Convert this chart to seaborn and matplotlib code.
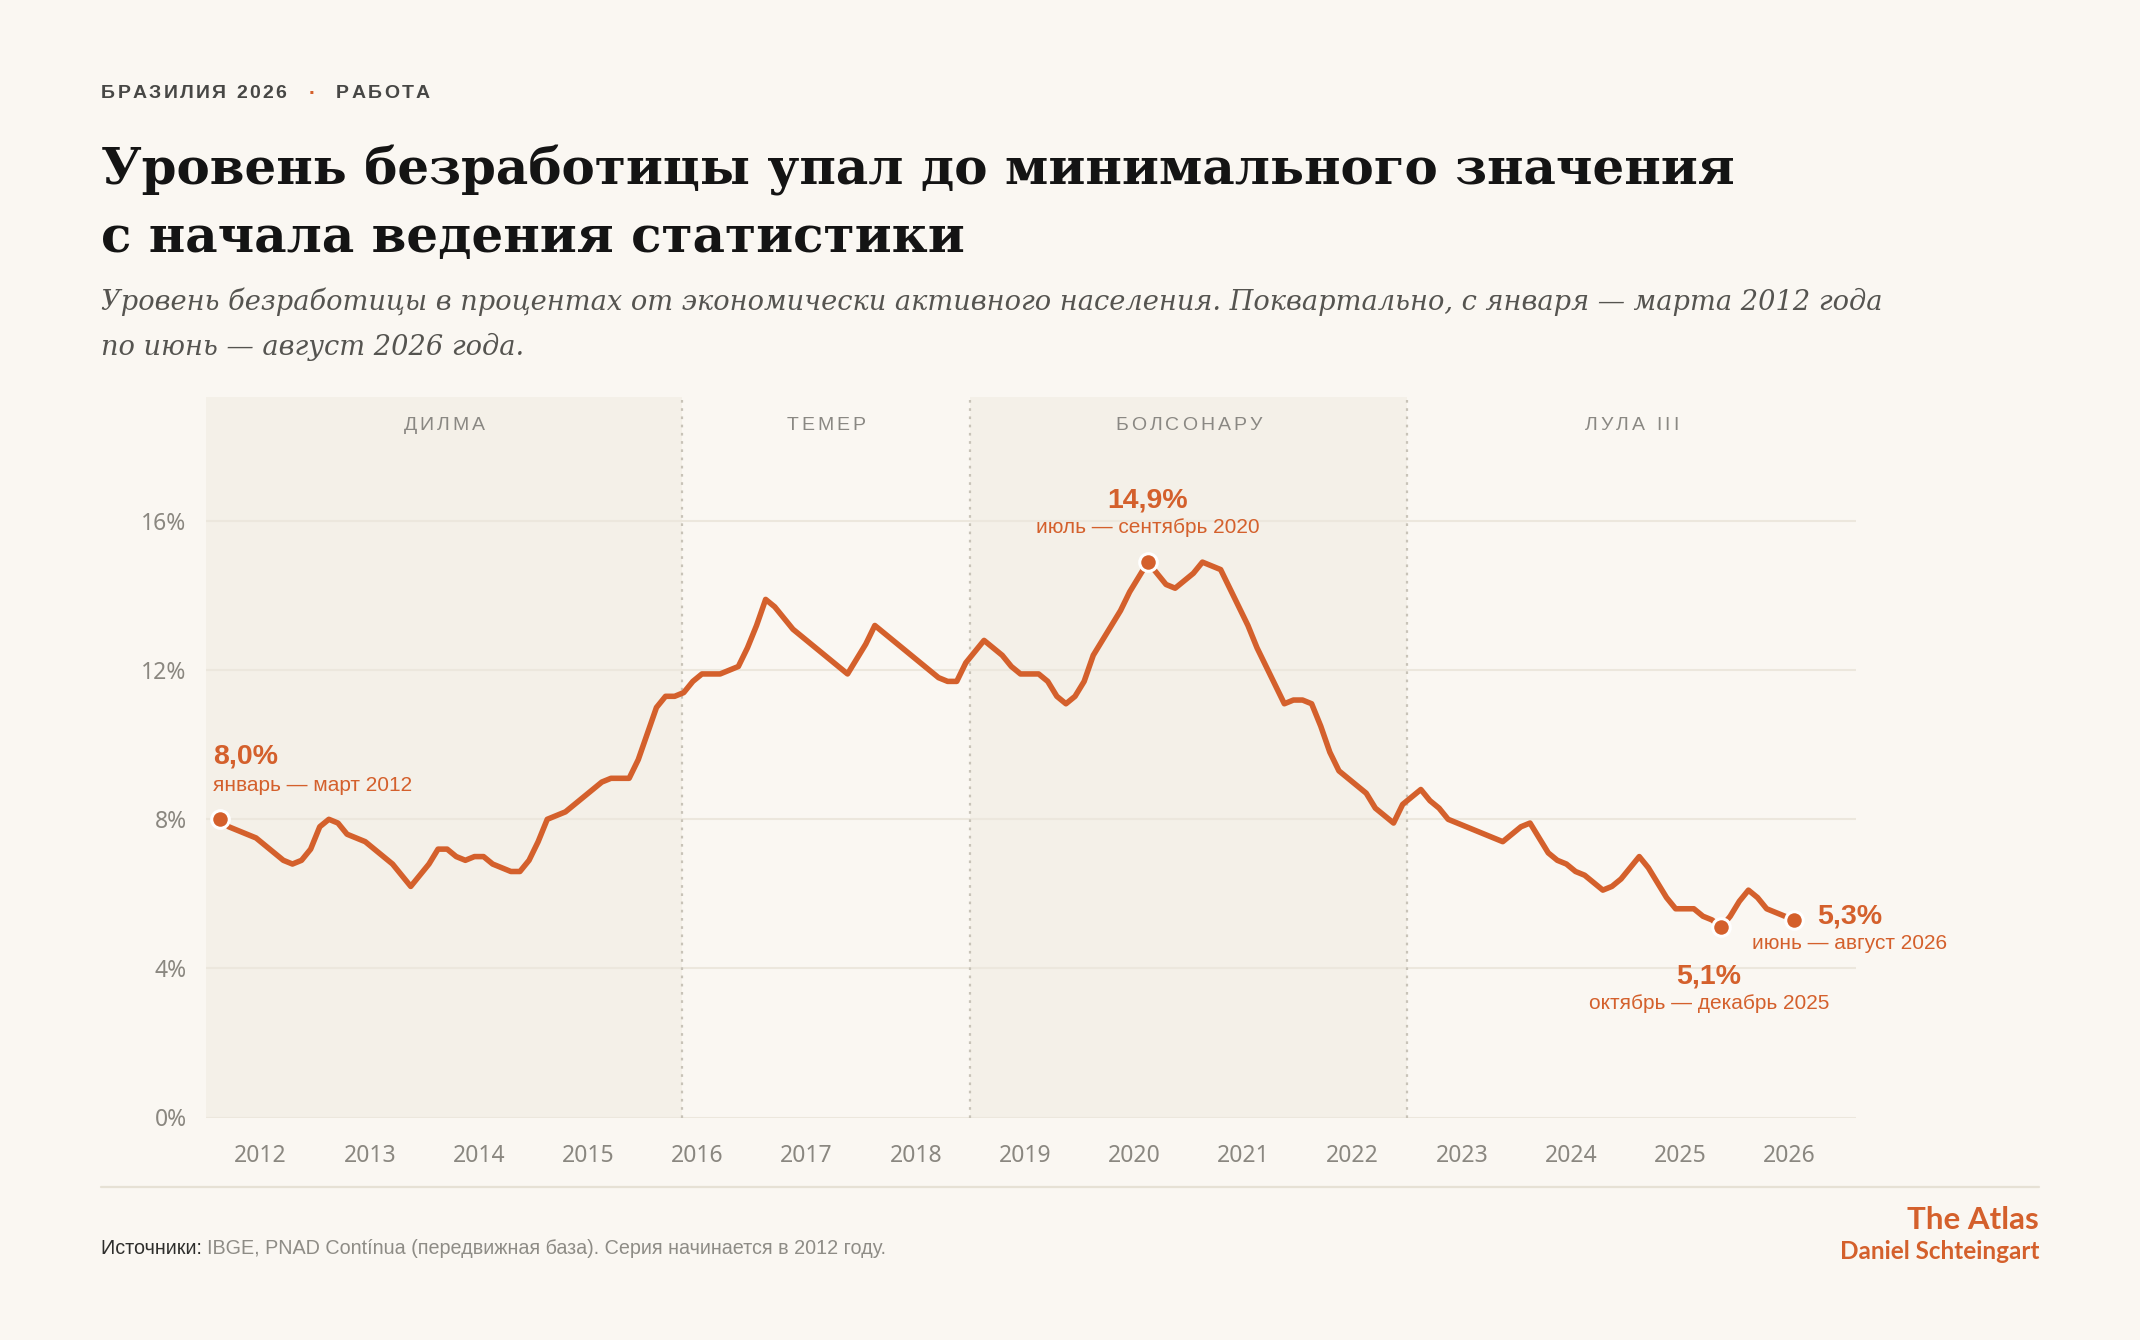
import numpy as np
import pandas as pd
import matplotlib
matplotlib.use("Agg")
import matplotlib.pyplot as plt
import seaborn as sns
from matplotlib.ft2font import FT2Font
from matplotlib.font_manager import findfont, FontProperties

# ---------------- data ----------------
# Unemployment rate (%), monthly moving quarters; first window Jan-Mar 2012, last Jun-Aug 2026
first_window_end = "2012-03"
last_window_end = "2026-08"
rate_2012 = [8.0, 7.8, 7.7, 7.6, 7.5, 7.3, 7.1, 6.9, 6.8, 6.9]
rate_2013 = [7.2, 7.8, 8.0, 7.9, 7.6, 7.5, 7.4, 7.2, 7.0, 6.8, 6.5, 6.2]
rate_2014 = [6.5, 6.8, 7.2, 7.2, 7.0, 6.9, 7.0, 7.0, 6.8, 6.7, 6.6, 6.6]
rate_2015 = [6.9, 7.4, 8.0, 8.1, 8.2, 8.4, 8.6, 8.8, 9.0, 9.1, 9.1, 9.1]
rate_2016 = [9.6, 10.3, 11.0, 11.3, 11.3, 11.4, 11.7, 11.9, 11.9, 11.9, 12.0, 12.1]
rate_2017 = [12.6, 13.2, 13.9, 13.7, 13.4, 13.1, 12.9, 12.7, 12.5, 12.3, 12.1, 11.9]
rate_2018 = [12.3, 12.7, 13.2, 13.0, 12.8, 12.6, 12.4, 12.2, 12.0, 11.8, 11.7, 11.7]
rate_2019 = [12.2, 12.5, 12.8, 12.6, 12.4, 12.1, 11.9, 11.9, 11.9, 11.7, 11.3, 11.1]
rate_2020 = [11.3, 11.7, 12.4, 12.8, 13.2, 13.6, 14.1, 14.5, 14.9, 14.6, 14.3, 14.2]
rate_2021 = [14.4, 14.6, 14.9, 14.8, 14.7, 14.2, 13.7, 13.2, 12.6, 12.1, 11.6, 11.1]
rate_2022 = [11.2, 11.2, 11.1, 10.5, 9.8, 9.3, 9.1, 8.9, 8.7, 8.3, 8.1, 7.9]
rate_2023 = [8.4, 8.6, 8.8, 8.5, 8.3, 8.0, 7.9, 7.8, 7.7, 7.6, 7.5, 7.4]
rate_2024 = [7.6, 7.8, 7.9, 7.5, 7.1, 6.9, 6.8, 6.6, 6.5, 6.3, 6.1, 6.2]
rate_2025 = [6.4, 6.7, 7.0, 6.7, 6.3, 5.9, 5.6, 5.6, 5.6, 5.4, 5.3, 5.1]
rate_2026 = [5.4, 5.8, 6.1, 5.9, 5.6, 5.5, 5.4, 5.3]

period_names = ["ДИЛМА", "ТЕМЕР", "БОЛСОНАРУ", "ЛУЛА III"]
period_starts = [2012.0, 2016.36, 2019.0, 2023.0]
period_ends = [2016.36, 2019.0, 2023.0, 2027.11]
period_shaded = [True, False, True, False]

year_labels = [str(y) for y in range(2012, 2027)]
y_ticks = [0, 4, 8, 12, 16]
y_tick_labels = ["0%", "4%", "8%", "12%", "16%"]

callout_windows = ["2012-03", "2020-09", "2025-12", "2026-08"]
callout_values = ["8,0%", "14,9%", "5,1%", "5,3%"]
callout_periods = ["январь — март 2012", "июль — сентябрь 2020",
                   "октябрь — декабрь 2025", "июнь — август 2026"]

# ---------------- build table ----------------
rates = (rate_2012 + rate_2013 + rate_2014 + rate_2015 + rate_2016 + rate_2017 + rate_2018
         + rate_2019 + rate_2020 + rate_2021 + rate_2022 + rate_2023 + rate_2024 + rate_2025 + rate_2026)
ends = pd.period_range(first_window_end, last_window_end, freq="M")
# position each moving quarter at the middle of its central month
xpos = np.array([p.year + (p.month - 1.5) / 12 for p in ends])
df = pd.DataFrame({"x": xpos, "rate": rates, "end": [str(p) for p in ends]})

# ---------------- style ----------------
BG = "#FAF7F2"
BAND = "#F4F0E8"
ORANGE = "#D4602C"
GRID = "#ECE7DD"
TICK = "#8A8780"

sns.set_theme(style="white")
plt.rcParams["font.family"] = ["Liberation Sans", "DejaVu Sans"]

W, H = 2140, 1340
fig = plt.figure(figsize=(W / 100, H / 100), dpi=100, facecolor=BG)
L, R, T, B = 206, 1856, 397, 1117.5
ax = fig.add_axes([L / W, 1 - B / H, (R - L) / W, (B - T) / H])
ax.set_facecolor(BG)
ax.set_xlim(period_starts[0], period_ends[-1])
ax.set_ylim(0, 19.33)

for s, e, shaded in zip(period_starts, period_ends, period_shaded):
    if shaded:
        ax.axvspan(s, e, color=BAND, zorder=0.1, lw=0)
for s in period_starts[1:]:
    ax.axvline(s, color="#C8C3B8", lw=1.6, ls=(0, (1.2, 2.5)), zorder=0.6)

ax.set_yticks(y_ticks)
ax.set_yticklabels(y_tick_labels)
ax.set_xticks([int(y) + 0.5 for y in year_labels])
ax.set_xticklabels(year_labels)
ax.grid(axis="y", color=GRID, lw=1.5, zorder=0.5)
ax.grid(axis="x", visible=False)
ax.set_axisbelow(True)
for sp in ax.spines.values():
    sp.set_visible(False)
ax.tick_params(axis="both", length=0, colors=TICK, labelsize=16.5)
ax.tick_params(axis="y", pad=14)
ax.tick_params(axis="x", pad=19)
for lab in ax.get_xticklabels() + ax.get_yticklabels():
    lab.set_fontfamily("Noto Sans")
    lab.set_color(TICK)

sns.lineplot(data=df, x="x", y="rate", color=ORANGE, linewidth=4.0, ax=ax,
             solid_joinstyle="round", solid_capstyle="round", zorder=3)

pts = df[df["end"].isin(callout_windows)]
sns.scatterplot(data=pts, x="x", y="rate", color=ORANGE, s=160, edgecolor="white",
                linewidth=2.2, zorder=5, ax=ax, legend=False)
ax.set_xlabel("")
ax.set_ylabel("")

# callouts: (dx, dy) offsets in pixels, alignment
offsets = {
    "2012-03": ((-7, 63), (-7, 34), "left"),
    "2020-09": ((0, 62), (0, 35), "center"),
    "2025-12": ((-12, -49), (-12, -76), "center"),
    "2026-08": ((56, 3), (56, -24), "center"),
}
for w, val, per in zip(callout_windows, callout_values, callout_periods):
    row = df[df["end"] == w].iloc[0]
    (o1, o2, ha) = offsets[w]
    ax.annotate(val, xy=(row["x"], row["rate"]), xytext=o1, textcoords="offset pixels",
                ha=ha, va="center", fontsize=20.5, fontweight="bold", color=ORANGE, zorder=6)
    ax.annotate(per, xy=(row["x"], row["rate"]), xytext=o2, textcoords="offset pixels",
                ha=ha, va="center", fontsize=15, color=ORANGE, zorder=6)


# ---------------- letter-spaced text helper ----------------
def advances(s, prop, size):
    f = FT2Font(findfont(prop))
    f.set_size(size, 100)
    out = []
    for ch in s:
        g = f.load_char(ord(ch))
        out.append(g.linearHoriAdvance / 65536)
    return out


def spaced(x_px, y_px, s, size, spacing, color, ha="left", weight="normal", family="Liberation Sans"):
    prop = FontProperties(family=family, weight=weight)
    adv = advances(s, prop, size)
    total = sum(adv) + spacing * (len(s) - 1)
    x0 = x_px - (total / 2 if ha == "center" else 0)
    for ch, a in zip(s, adv):
        fig.text(x0 / W, 1 - y_px / H, ch, fontsize=size, color=color,
                 family=family, weight=weight, ha="left", va="center")
        x0 += a + spacing
    return total


# period labels
for name, s, e in zip(period_names, period_starts, period_ends):
    cx = ax.transData.transform(((s + e) / 2, 0))[0]
    spaced(cx, 425, name, 14, 3.0, "#8A8883", ha="center")

# kicker
spaced(101, 93, "БРАЗИЛИЯ 2026", 14, 2.3, "#474745", weight="bold")
fig.text(312 / W, 1 - 93 / H, "·", fontsize=15, color=ORANGE, ha="center", va="center", weight="bold")
spaced(336, 93, "РАБОТА", 14, 2.3, "#474745", weight="bold")

# title
fig.text(101 / W, 1 - 185 / H, "Уровень безработицы упал до минимального значения",
         family="DejaVu Serif", weight="bold", fontsize=36.0, color="#141414", va="baseline")
fig.text(101 / W, 1 - 252 / H, "с начала ведения статистики",
         family="DejaVu Serif", weight="bold", fontsize=36.0, color="#141414", va="baseline")

# subtitle
fig.text(101 / W, 1 - 310 / H,
         "Уровень безработицы в процентах от экономически активного населения. Поквартально, с января — марта 2012 года",
         family="DejaVu Serif", style="italic", fontsize=19.65, color="#555450", va="baseline")
fig.text(101 / W, 1 - 355 / H, "по июнь — август 2026 года.",
         family="DejaVu Serif", style="italic", fontsize=19.65, color="#555450", va="baseline")

# footer rule
fig.add_artist(plt.Line2D([101 / W, 2039 / W], [1 - 1187 / H, 1 - 1187 / H], color="#E6E1D5", lw=1.6))

# source
t1 = fig.text(101 / W, 1 - 1254 / H, "Источники: ", fontsize=14.2, color="#2E2E2C", va="baseline")
fig.canvas.draw()
bb = t1.get_window_extent()
fig.text(bb.x1 / W, 1 - 1254 / H, "IBGE, PNAD Contínua (передвижная база). Серия начинается в 2012 году.",
         fontsize=14.2, color="#8E8C86", va="baseline")

# signature
fig.text(2039 / W, 1 - 1229 / H, "The Atlas", family="Lato", weight="bold", fontsize=22.5,
         color=ORANGE, ha="right", va="baseline")
fig.text(2039 / W, 1 - 1259 / H, "Daniel Schteingart", family="Lato", weight="bold", fontsize=17.5,
         color=ORANGE, ha="right", va="baseline")

fig.savefig("out.png", dpi=100, facecolor=BG)
